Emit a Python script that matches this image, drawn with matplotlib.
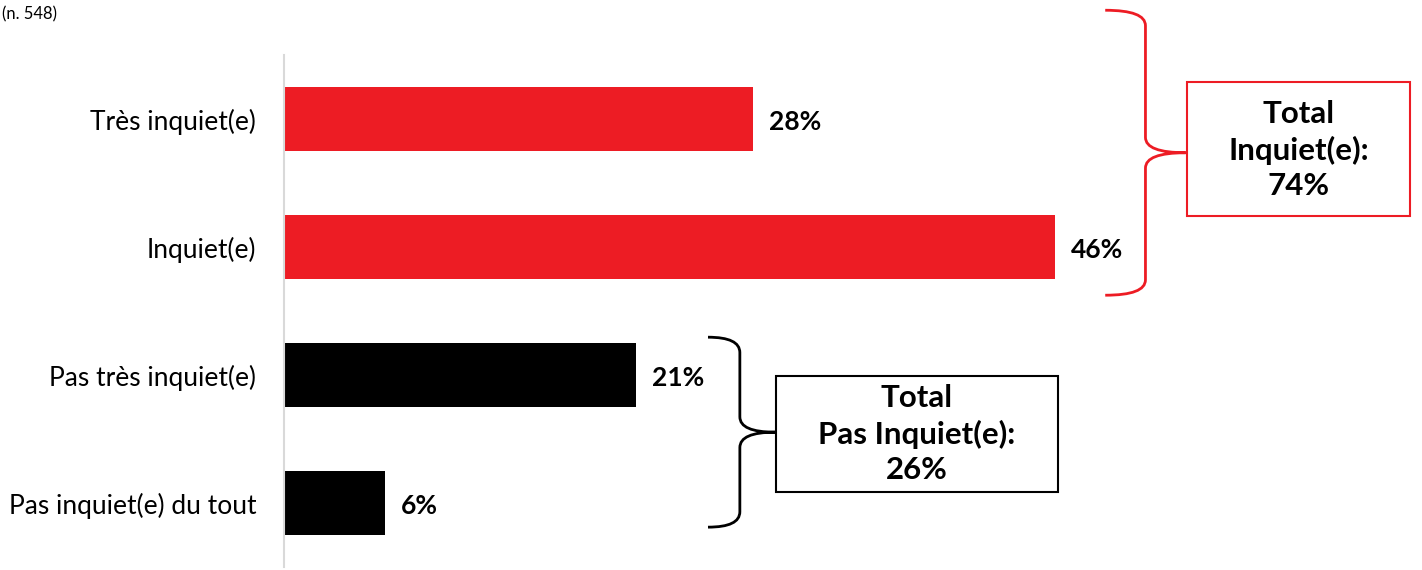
import matplotlib.pyplot as plt
from matplotlib.path import Path
from matplotlib.patches import PathPatch, Rectangle

plt.rcParams['font.family'] = ['Lato', 'DejaVu Sans']

categories = ['Très inquiet(e)', 'Inquiet(e)', 'Pas très inquiet(e)', 'Pas inquiet(e) du tout']
values = [28, 46, 21, 6]
colors = ['#ed1c24', '#ed1c24', '#000000', '#000000']
total_inquiet = 74
total_pas_inquiet = 26
base_note = '(n. 548)'


def brace(ax, x0, xv, xt, ytop, ybot, color, ry=0.12):
    ymid = (ytop + ybot) / 2
    verts = [(x0, ytop), (xv, ytop), (xv, ytop + ry),
             (xv, ymid - ry),
             (xv, ymid), (xt, ymid),
             (xv, ymid), (xv, ymid + ry),
             (xv, ybot - ry),
             (xv, ybot), (x0, ybot)]
    codes = [Path.MOVETO, Path.CURVE3, Path.CURVE3,
             Path.LINETO,
             Path.CURVE3, Path.CURVE3,
             Path.CURVE3, Path.CURVE3,
             Path.LINETO,
             Path.CURVE3, Path.CURVE3]
    ax.add_patch(PathPatch(Path(verts, codes), fill=False, edgecolor=color,
                           lw=2, clip_on=False))


fig = plt.figure(figsize=(14.22, 5.70), dpi=100)
ax = fig.add_axes([0.1997, 0.005, 0.8003, 0.898])

pos = list(range(len(categories)))
ax.barh(pos, values, height=0.5, color=colors)
for p, v in zip(pos, values):
    ax.text(v + 0.95, p + 0.02, f'{v}%', va='center', ha='left', fontsize=19,
            fontweight='bold')

ax.set_xlim(0, 67.9)
ax.set_ylim(3.5, -0.5)
ax.set_yticks(pos)
ax.set_yticklabels(categories, fontsize=19)
ax.tick_params(axis='y', length=0, pad=20)
ax.set_xticks([])
for s in ['top', 'right', 'bottom']:
    ax.spines[s].set_visible(False)
ax.spines['left'].set_color('#d9d9d9')
ax.spines['left'].set_linewidth(1.5)

# group braces and total boxes
brace(ax, 49.0, 51.4, 53.8, -0.852, 1.375, '#ed1c24')
ax.add_patch(Rectangle((53.9, -0.289), 13.3, 1.047, fill=False, edgecolor='#ed1c24',
                       lw=1.5, clip_on=False))
ax.text(60.55, 0.24, f'Total\nInquiet(e):\n{total_inquiet}%', ha='center', va='center',
        fontsize=22.5, fontweight='bold', linespacing=1.32)

brace(ax, 25.3, 27.2, 29.3, 1.703, 3.1875, '#000000')
ax.add_patch(Rectangle((29.35, 2.008), 16.83, 0.906, fill=False, edgecolor='#000000',
                       lw=1.5, clip_on=False))
ax.text(37.76, 2.461, f'Total\nPas Inquiet(e):\n{total_pas_inquiet}%', ha='center',
        va='center', fontsize=22.5, fontweight='bold', linespacing=1.32)

fig.text(2 / 1422, 1 - 14 / 570, base_note, ha='left', va='center', fontsize=12)

fig.savefig('out.png', dpi=100)
